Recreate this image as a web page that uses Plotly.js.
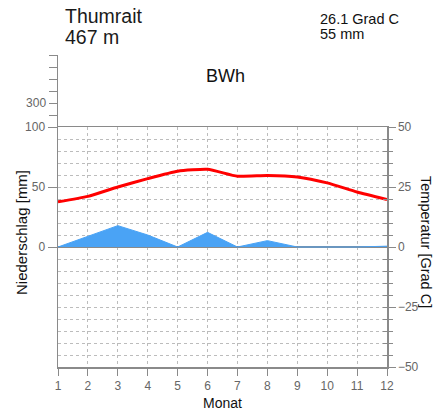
<!DOCTYPE html>
<html>
<head>
<meta charset="utf-8">
<script src="https://cdn.plot.ly/plotly-3.0.1.min.js"></script>
<style>html,body{margin:0;padding:0;background:#fff;}#chart{width:433px;height:412px;}</style>
</head>
<body>
<div id="chart"></div>
<script>
const months = [1, 2, 3, 4, 5, 6, 7, 8, 9, 10, 11, 12];
const temperature = [18.8, 21.1, 25.0, 28.5, 31.6, 32.4, 29.5, 29.8, 29.2, 26.7, 22.9, 19.8];
const precipitation = [0, 9, 17.8, 10, 0, 12.2, 0, 5.3, 0, 0, 0, 0.7];
const precipTicks = [0, 50, 100];
const upperTicks = [200, 300, 400, 500, 600, 700];
const upperTickText = ['', '300', '', '', '', ''];

const FONT = 'Liberation Sans, Arial, sans-serif';
const AX = '#8a8a8a';
const TXT = '#666';
const GRID = '#bcbcbc';

const traces = [
  {x: months, y: precipitation, xaxis: 'x', yaxis: 'y', type: 'scatter', mode: 'lines',
   fill: 'tozeroy', fillcolor: '#4aa3f5', line: {color: '#4aa3f5', width: 1}, hoverinfo: 'skip'},
  {x: months, y: temperature, xaxis: 'x', yaxis: 'y2', type: 'scatter', mode: 'lines',
   line: {color: '#ff0000', width: 3, shape: 'spline', smoothing: 0.5}, hoverinfo: 'skip'},
  {x: [], y: [], xaxis: 'x', yaxis: 'y4', type: 'scatter', hoverinfo: 'skip'},
  {x: [], y: [], xaxis: 'x2', yaxis: 'y3', type: 'scatter', hoverinfo: 'skip'}
];

const mainTop = 240 / 312;

const layout = {
  width: 433, height: 412,
  margin: {l: 58, r: 46, t: 55, b: 45},
  paper_bgcolor: '#fff', plot_bgcolor: 'rgba(0,0,0,0)',
  showlegend: false,
  font: {family: FONT, size: 12, color: TXT},
  xaxis: {
    domain: [0, 1], anchor: 'y', range: [1, 12], tickmode: 'linear', tick0: 1, dtick: 1,
    showline: true, linecolor: AX, linewidth: 1.5, mirror: true,
    ticks: 'outside', ticklen: 7, tickcolor: AX, tickwidth: 1,
    showgrid: true, gridcolor: GRID, griddash: 'dot', gridwidth: 1,
    zeroline: false, tickfont: {size: 12, color: TXT}, fixedrange: true
  },
  xaxis2: {domain: [0, 1], anchor: 'y3', range: [1, 12], visible: false, fixedrange: true},
  yaxis: {
    domain: [0, mainTop], anchor: 'x', range: [-100, 100], tickmode: 'array', tickvals: precipTicks,
    showline: true, linecolor: AX, linewidth: 1.5,
    ticks: 'outside', ticklen: 9, tickcolor: AX,
    showgrid: false, zeroline: false, tickfont: {size: 12, color: TXT}, fixedrange: true
  },
  yaxis2: {
    overlaying: 'y', side: 'right', anchor: 'x', range: [-50, 50], tickmode: 'linear', tick0: 0, dtick: 25,
    showline: true, linecolor: AX, linewidth: 1.5,
    ticks: 'outside', ticklen: 7, tickcolor: AX,
    minor: {dtick: 5, tick0: 0, ticks: 'outside', ticklen: 4, tickcolor: AX,
            showgrid: true, gridcolor: GRID, griddash: 'dot', gridwidth: 1},
    showgrid: true, gridcolor: GRID, griddash: 'dot', gridwidth: 1,
    zeroline: true, zerolinecolor: AX, zerolinewidth: 1.5,
    tickfont: {size: 12, color: TXT}, fixedrange: true
  },
  yaxis4: {
    overlaying: 'y', side: 'right', anchor: 'x', range: [-50, 50], tickmode: 'linear', tick0: 0, dtick: 5,
    showline: false, ticks: 'inside', ticklen: 4, tickcolor: AX,
    showticklabels: false, showgrid: false, zeroline: false, fixedrange: true
  },
  yaxis3: {
    domain: [mainTop, 1], anchor: 'x2', range: [100, 700], tickmode: 'array',
    tickvals: upperTicks, ticktext: upperTickText,
    showline: true, linecolor: AX, linewidth: 1.5,
    ticks: 'outside', ticklen: 8, tickcolor: AX,
    showgrid: false, zeroline: false, tickfont: {size: 12, color: TXT}, fixedrange: true
  },
  annotations: [
    {text: 'Thumrait', xref: 'paper', yref: 'paper', x: 0.016, y: 1.1266, xanchor: 'left', yanchor: 'middle',
     showarrow: false, font: {family: FONT, size: 19.5, color: '#1a1a1a'}},
    {text: '467 m', xref: 'paper', yref: 'paper', x: 0.016, y: 1.0577, xanchor: 'left', yanchor: 'middle',
     showarrow: false, font: {family: FONT, size: 19.5, color: '#1a1a1a'}},
    {text: '26.1 Grad C', xref: 'paper', yref: 'paper', x: 0.79, y: 1.1154, xanchor: 'left', yanchor: 'middle',
     showarrow: false, font: {family: FONT, size: 14.5, color: '#111'}},
    {text: '55 mm', xref: 'paper', yref: 'paper', x: 0.79, y: 1.0673, xanchor: 'left', yanchor: 'middle',
     showarrow: false, font: {family: FONT, size: 14.5, color: '#111'}},
    {text: 'BWh', xref: 'paper', yref: 'paper', x: 0.509, y: 0.9327, xanchor: 'center', yanchor: 'middle',
     showarrow: false, font: {family: FONT, size: 18, color: '#111'}},
    {text: 'Niederschlag [mm]', xref: 'paper', yref: 'paper', x: -0.1094, y: 0.4295, xanchor: 'center', yanchor: 'middle',
     textangle: -90, showarrow: false, font: {family: FONT, size: 15, color: '#111'}},
    {text: 'Temperatur [Grad C]', xref: 'paper', yref: 'paper', x: 1.1185, y: 0.4006, xanchor: 'center', yanchor: 'middle',
     textangle: 90, showarrow: false, font: {family: FONT, size: 14.5, color: '#111'}},
    {text: 'Monat', xref: 'paper', yref: 'paper', x: 0.4985, y: -0.1154, xanchor: 'center', yanchor: 'middle',
     showarrow: false, font: {family: FONT, size: 14, color: '#111'}}
  ]
};

Plotly.newPlot('chart', traces, layout, {staticPlot: true, displayModeBar: false});
</script>
</body>
</html>
